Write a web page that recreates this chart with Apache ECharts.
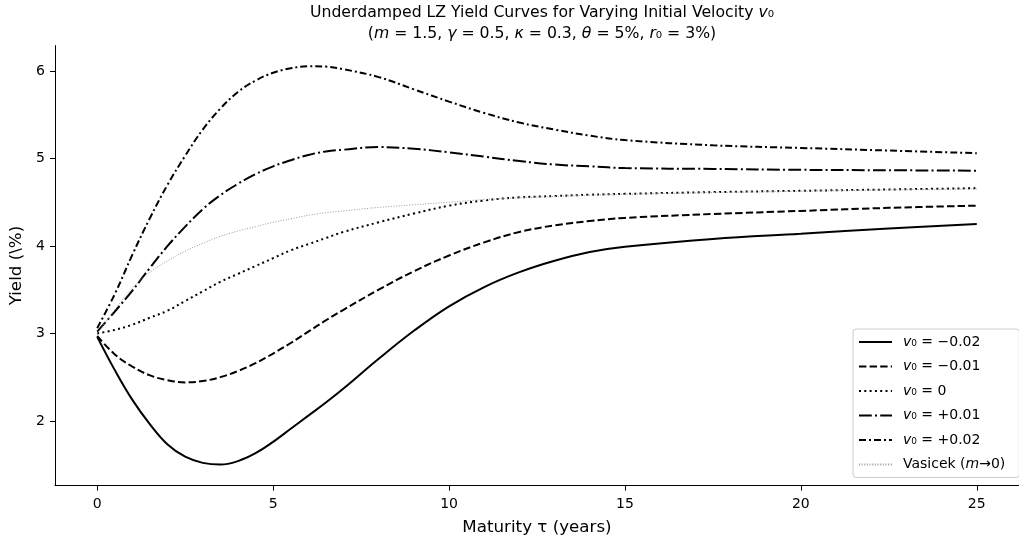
<!DOCTYPE html>
<html>
<head>
<meta charset="utf-8">
<script src="https://cdn.jsdelivr.net/npm/echarts@6/dist/echarts.min.js"></script>
<style>
  html, body { margin: 0; padding: 0; background: #fff; }
  #main { width: 1019px; height: 547px; }
</style>
</head>
<body>
<div id="main"></div>
<script type="text/javascript">
var tau = [0, 0.5, 1, 1.5, 2, 2.5, 3, 3.5, 4, 4.5, 5, 5.5, 6, 6.5, 7, 8, 9, 10, 11, 12, 13, 14, 15, 17.5, 20, 22.5, 25];

// yields in %
var vNeg2 = [2.96, 2.58, 2.24, 1.96, 1.73, 1.59, 1.52, 1.50, 1.54, 1.63, 1.76, 1.91, 2.06, 2.21, 2.37, 2.71, 3.03, 3.31, 3.53, 3.70, 3.83, 3.93, 3.99, 4.08, 4.14, 4.20, 4.25];
var vNeg1 = [2.97, 2.76, 2.62, 2.52, 2.465, 2.44, 2.455, 2.50, 2.57, 2.66, 2.77, 2.89, 3.02, 3.15, 3.27, 3.50, 3.71, 3.89, 4.04, 4.16, 4.235, 4.285, 4.32, 4.365, 4.40, 4.435, 4.46];
var vZero = [3.00, 3.04, 3.10, 3.18, 3.26, 3.37, 3.48, 3.59, 3.68, 3.77, 3.86, 3.95, 4.02, 4.09, 4.16, 4.27, 4.37, 4.46, 4.52, 4.555, 4.57, 4.585, 4.595, 4.615, 4.63, 4.645, 4.66];
var vPos1 = [3.02, 3.25, 3.49, 3.75, 4.00, 4.22, 4.42, 4.58, 4.71, 4.82, 4.91, 4.98, 5.04, 5.08, 5.10, 5.13, 5.11, 5.07, 5.02, 4.97, 4.93, 4.91, 4.89, 4.88, 4.87, 4.865, 4.86];
var vPos2 = [3.06, 3.45, 3.90, 4.32, 4.70, 5.03, 5.33, 5.57, 5.76, 5.89, 5.98, 6.03, 6.055, 6.05, 6.02, 5.93, 5.79, 5.65, 5.52, 5.41, 5.33, 5.26, 5.21, 5.15, 5.12, 5.09, 5.06];
var vasicek = [3.00, 3.27, 3.52, 3.70, 3.83, 3.94, 4.03, 4.11, 4.17, 4.22, 4.27, 4.31, 4.35, 4.38, 4.40, 4.44, 4.47, 4.50, 4.53, 4.55, 4.565, 4.58, 4.59, 4.61, 4.625, 4.64, 4.65];

var names = ['v₀ = −0.02', 'v₀ = −0.01', 'v₀ = 0', 'v₀ = +0.01', 'v₀ = +0.02', 'Vasicek (m→0)'];
var xTicks = [0, 5, 10, 15, 20, 25];
var yTicks = [2, 3, 4, 5, 6];

var font = 'DejaVu Sans';

function pairs(ys) {
    return tau.map(function (t, i) { return [t, ys[i]]; });
}

function mkLine(name, ys, type, color, width) {
    return {
        name: name,
        type: 'line',
        data: pairs(ys),
        smooth: 0.4,
        symbol: 'none',
        showSymbol: false,
        animation: false,
        lineStyle: { color: color, width: width, type: type },
        itemStyle: { color: color }
    };
}

var chart = echarts.init(document.getElementById('main'));

var option = {
    backgroundColor: '#fff',
    textStyle: { fontFamily: font },
    title: {
        left: 537,
        top: -3,
        textAlign: 'center',
        text: '{n|Underdamped LZ Yield Curves for Varying Initial Velocity }{i|v}{n|₀}\n' +
              '{n|(}{i|m}{n| = 1.5, }{i|γ}{n| = 0.5, }{i|κ}{n| = 0.3, }{i|θ}{n| = 5%, }{i|r}{n|₀ = 3%)}',
        textStyle: {
            fontFamily: font,
            fontWeight: 'normal',
            fontSize: 15.7,
            color: '#000',
            lineHeight: 21,
            rich: {
                n: { fontFamily: font, fontSize: 15.7, color: '#000', lineHeight: 21 },
                i: { fontFamily: font, fontSize: 15.7, color: '#000', lineHeight: 21, fontStyle: 'italic' }
            }
        }
    },
    legend: {
        orient: 'vertical',
        left: 853,
        top: 329,
        padding: [6, 14, 6, 5],
        itemWidth: 33,
        itemHeight: 14,
        itemGap: 10.5,
        itemStyle: { opacity: 0 },
        backgroundColor: 'rgba(255,255,255,0.85)',
        borderColor: '#cccccc',
        borderWidth: 1,
        borderRadius: 3,
        data: names,
        formatter: function (name) {
            return name.replace(/^v/, '{i|v}').replace('(m', '({i|m}');
        },
        textStyle: {
            fontFamily: font,
            fontSize: 14,
            color: '#000',
            padding: [0, 0, 0, 6],
            rich: {
                i: { fontFamily: font, fontSize: 14, color: '#000', fontStyle: 'italic' }
            }
        }
    },
    grid: {
        left: 55,
        top: 45.6,
        width: 972.7,
        height: 440
    },
    xAxis: {
        type: 'value',
        min: -1.2,
        max: 26.2,
        name: 'Maturity τ (years)',
        nameLocation: 'middle',
        nameGap: 34,
        nameTextStyle: { fontFamily: font, fontSize: 16.7, color: '#000' },
        axisLine: { show: true, onZero: false, lineStyle: { color: '#000', width: 1 } },
        axisTick: { show: true, length: 5, customValues: xTicks, lineStyle: { color: '#000', width: 1 } },
        axisLabel: { customValues: xTicks, margin: 12, fontFamily: font, fontSize: 14, color: '#000' },
        splitLine: { show: false }
    },
    yAxis: {
        type: 'value',
        min: 1.26,
        max: 6.29,
        name: 'Yield (\\%)',
        nameLocation: 'middle',
        nameRotate: 90,
        nameGap: 30,
        nameTextStyle: { fontFamily: font, fontSize: 16.7, color: '#000' },
        axisLine: { show: true, onZero: false, lineStyle: { color: '#000', width: 1 } },
        axisTick: { show: true, length: 5, customValues: yTicks, lineStyle: { color: '#000', width: 1 } },
        axisLabel: { customValues: yTicks, margin: 10, fontFamily: font, fontSize: 14, color: '#000' },
        splitLine: { show: false }
    },
    series: [
        mkLine(names[0], vNeg2, 'solid', '#000', 2),
        mkLine(names[1], vNeg1, [7.4, 3.2], '#000', 2),
        mkLine(names[2], vZero, [2, 3.3], '#000', 2),
        mkLine(names[3], vPos1, [12.8, 3.2, 2, 3.2], '#000', 2),
        mkLine(names[4], vPos2, [7, 3, 2, 3], '#000', 2),
        mkLine(names[5], vasicek, [1, 1.65], '#999', 1)
    ]
};

chart.setOption(option);
</script>
</body>
</html>
